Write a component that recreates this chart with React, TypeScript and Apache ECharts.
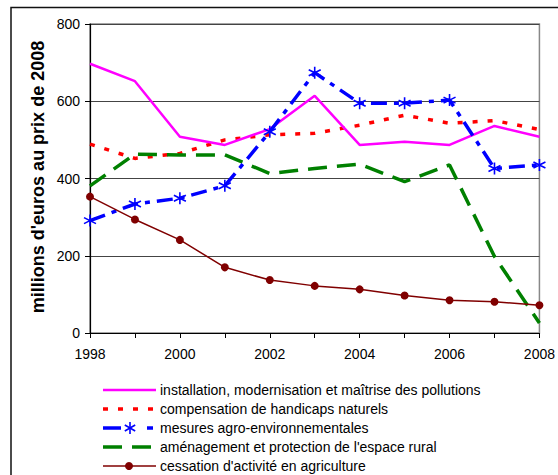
import React, { useEffect, useRef } from "react";
import * as echarts from "echarts";

const years = [1998, 1999, 2000, 2001, 2002, 2003, 2004, 2005, 2006, 2007, 2008];
const yTicks = [0, 200, 400, 600, 800];

const seriesNames = [
  "installation, modernisation et maîtrise des pollutions",
  "compensation de handicaps naturels",
  "mesures agro-environnementales",
  "aménagement et protection de l'espace rural",
  "cessation d'activité en agriculture",
];

const installation = [697, 652, 508, 487, 528, 614, 487, 495, 487, 536, 508];
const compensation = [489, 452, 465, 500, 513, 517, 538, 564, 543, 550, 527];
const mesures = [291, 334, 349, 381, 521, 674, 595, 595, 603, 426, 435];
const amenagement = [381, 463, 461, 461, 413, 426, 437, 392, 435, 198, 26];
const cessation = [353, 294, 241, 170, 137, 122, 113, 97, 85, 81, 72];

const FONT = "Liberation Sans, Arial, sans-serif";
const STAR = "path://M0,-6L0,6M-5.2,-3L5.2,3M-5.2,3L5.2,-3";

const PINK = "#ff00ff";
const RED = "#ff0000";
const BLUE = "#0000ff";
const GREEN = "#008000";
const BROWN = "#800000";

function pairs(vals: number[]) {
  return years.map((y, i) => [y, vals[i]]);
}

function star(cx: number, cy: number) {
  const s = { stroke: BLUE, lineWidth: 1.6 };
  return [
    { type: "line", shape: { x1: cx, y1: cy - 6, x2: cx, y2: cy + 6 }, style: s },
    { type: "line", shape: { x1: cx - 5.2, y1: cy - 3, x2: cx + 5.2, y2: cy + 3 }, style: s },
    { type: "line", shape: { x1: cx - 5.2, y1: cy + 3, x2: cx + 5.2, y2: cy - 3 }, style: s },
  ];
}

function buildLegend() {
  const rows = [390, 409, 428, 447, 466];
  const x0 = 103;
  const x1 = 156;
  const els: any[] = [];
  // pink
  els.push({ type: "line", shape: { x1: x0, y1: rows[0], x2: x1, y2: rows[0] }, style: { stroke: PINK, lineWidth: 2.5 } });
  // red
  els.push({ type: "line", shape: { x1: x0, y1: rows[1], x2: x1, y2: rows[1] }, style: { stroke: RED, lineWidth: 3.5, lineDash: [5, 10] } });
  // blue
  els.push({ type: "line", shape: { x1: x0, y1: rows[2], x2: 121, y2: rows[2] }, style: { stroke: BLUE, lineWidth: 3.5 } });
  els.push({ type: "line", shape: { x1: 147, y1: rows[2], x2: 153, y2: rows[2] }, style: { stroke: BLUE, lineWidth: 3.5 } });
  els.push(...star(130, rows[2]));
  // green
  els.push({ type: "line", shape: { x1: x0, y1: rows[3], x2: x1, y2: rows[3] }, style: { stroke: GREEN, lineWidth: 3.5, lineDash: [19, 10] } });
  // brown
  els.push({ type: "line", shape: { x1: x0, y1: rows[4], x2: x1, y2: rows[4] }, style: { stroke: BROWN, lineWidth: 1.5 } });
  els.push({ type: "circle", shape: { cx: 129, cy: rows[4], r: 4 }, style: { fill: BROWN } });
  seriesNames.forEach((name, i) => {
    els.push({
      type: "text",
      x: 160,
      y: rows[i],
      style: {
        text: name,
        font: "14px Liberation Sans, Arial, sans-serif",
        fill: "#000",
        verticalAlign: "middle",
        align: "left",
      },
    });
  });
  return els;
}

export default function App() {
  const ref = useRef<HTMLDivElement>(null);
  useEffect(() => {
    if (!ref.current) return;
    const chart = echarts.init(ref.current, null, { renderer: "svg" });
    chart.setOption({
      animation: false,
      backgroundColor: "#fff",
      textStyle: { fontFamily: FONT },
      graphic: [
        {
          type: "rect",
          shape: { x: 11, y: 7.5, width: 600, height: 520 },
          style: { fill: "none", stroke: "#111", lineWidth: 1.5 },
          silent: true,
          z: 100,
        },
        {
          type: "text",
          x: 38,
          y: 177,
          rotation: Math.PI / 2,
          style: {
            text: "millions d'euros au prix de 2008",
            font: "bold 18px Liberation Sans, Arial, sans-serif",
            fill: "#000",
            align: "center",
            verticalAlign: "middle",
          },
        },
        ...buildLegend(),
      ],
      grid: {
        left: 90,
        right: 14,
        top: 24,
        bottom: 142,
        show: true,
        borderColor: "#888",
        borderWidth: 1.5,
        backgroundColor: "#fff",
      },
      xAxis: {
        type: "value",
        min: years[0],
        max: years[years.length - 1],
        interval: 1,
        axisLine: { show: true, lineStyle: { color: "#000", width: 1.2 } },
        axisTick: { show: true, inside: false, length: 5, lineStyle: { color: "#000" } },
        splitLine: { show: false },
        axisLabel: {
          fontSize: 14,
          color: "#000",
          margin: 14,
          showMaxLabel: true,
          formatter: (v: number) => (v % 2 === 0 ? String(v) : ""),
        },
      },
      yAxis: {
        type: "value",
        min: yTicks[0],
        max: yTicks[yTicks.length - 1],
        interval: 200,
        axisLine: { show: true, lineStyle: { color: "#000", width: 1.2 } },
        axisTick: { show: true, inside: false, length: 5, lineStyle: { color: "#000" } },
        splitLine: { show: true, lineStyle: { color: "#444", width: 1.2 } },
        axisLabel: { fontSize: 14, color: "#000", margin: 10 },
      },
      series: [
        {
          name: seriesNames[0],
          type: "line",
          data: pairs(installation),
          symbol: "none",
          lineStyle: { color: PINK, width: 2.5 },
          itemStyle: { color: PINK },
          z: 3,
        },
        {
          name: seriesNames[1],
          type: "line",
          data: pairs(compensation),
          symbol: "none",
          lineStyle: { color: RED, width: 3.5, type: [5, 10] },
          itemStyle: { color: RED },
          z: 2,
        },
        {
          name: seriesNames[2],
          type: "line",
          data: pairs(mesures),
          symbol: STAR,
          symbolSize: 12,
          lineStyle: { color: BLUE, width: 3.5, type: [16, 7, 5, 7] },
          itemStyle: { color: BLUE, borderColor: BLUE, borderWidth: 1.6 },
          z: 4,
        },
        {
          name: seriesNames[3],
          type: "line",
          data: pairs(amenagement),
          symbol: "none",
          lineStyle: { color: GREEN, width: 3.5, type: [19, 10] },
          itemStyle: { color: GREEN },
          z: 2,
        },
        {
          name: seriesNames[4],
          type: "line",
          data: pairs(cessation),
          symbol: "circle",
          symbolSize: 8,
          lineStyle: { color: BROWN, width: 1.5 },
          itemStyle: { color: BROWN },
          z: 5,
        },
      ],
    });
    return () => chart.dispose();
  }, []);
  return <div ref={ref} style={{ width: 558, height: 475, position: "absolute", left: 0, top: 0 }} />;
}
